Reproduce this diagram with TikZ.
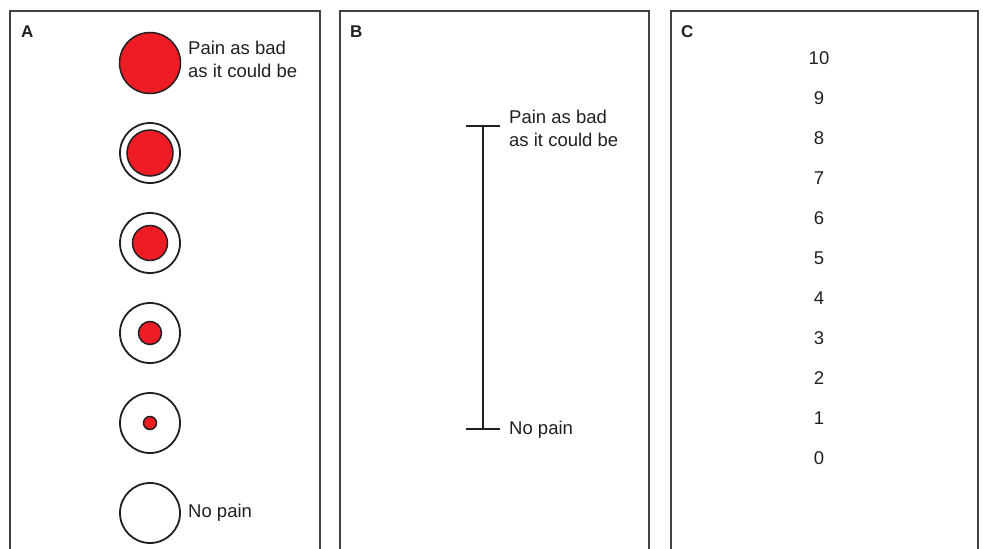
\documentclass[tikz,border=0pt]{standalone}
\usepackage{fontspec}
\setmainfont{Liberation Sans}
\definecolor{painred}{HTML}{EE1C25}
\definecolor{ink}{HTML}{231F20}
\begin{document}
\begin{tikzpicture}[x=1pt,y=-1pt,
  frame/.style={draw=ink!85,line width=1.3pt},
  ring/.style={circle,draw=ink,line width=1.8pt,inner sep=0pt,minimum size=60pt},
  dot/.style={circle,draw=ink,line width=1.5pt,fill=painred,inner sep=0pt},
  lbl/.style={font=\fontsize{18.5}{22.4}\selectfont,text=ink,inner sep=0pt,align=left},
  panel/.style={font=\bfseries\fontsize{17}{20}\selectfont,text=ink,inner sep=0pt},
  num/.style={font=\fontsize{18.5}{20}\selectfont,text=ink,inner sep=0pt},
  vline/.style={draw=ink,line width=1.2pt}]
\useasboundingbox (0,0) rectangle (983,549);
\clip (0,0) rectangle (983,549);
% frames
\draw[frame] (10,560) -- (10,11) -- (320,11) -- (320,560);
\draw[frame] (340,560) -- (340,11) -- (649,11) -- (649,560);
\draw[frame] (671,560) -- (671,11) -- (978,11) -- (978,560);
\node[panel,anchor=base west] (la) at (21,37) {A};
\node[panel,anchor=base west] (lb) at (350,37) {B};
\node[panel,anchor=base west] (lc) at (681,37) {C};
% panel A
\node[dot,minimum size=61pt] (c1) at (150,63) {};
\node[ring] (r2) at (150,153) {};
\node[dot,minimum size=46pt] (c2) at (150,153) {};
\node[ring] (r3) at (150,243) {};
\node[dot,minimum size=35pt] (c3) at (150,243) {};
\node[ring] (r4) at (150,333) {};
\node[dot,minimum size=23pt] (c4) at (150,333) {};
\node[ring] (r5) at (150,423) {};
\node[dot,minimum size=13pt] (c5) at (150,423) {};
\node[ring] (r6) at (150,513) {};
\node[lbl,anchor=base west] (ta) at (188,77) {Pain as bad\\as it could be};
\node[lbl,anchor=base west] (tb) at (188,517) {No pain};
% panel B
\coordinate (bt) at (483,126);
\coordinate (bb) at (483,429);
\coordinate (btl) at (466,126);
\coordinate (btr) at (500,126);
\coordinate (bbl) at (466,429);
\coordinate (bbr) at (500,429);
\draw[vline] (bt) -- (bb);
\draw[vline] (btl) -- (btr);
\draw[vline] (bbl) -- (bbr);
\node[lbl,anchor=base west] (tc) at (509,146) {Pain as bad\\as it could be};
\node[lbl,anchor=base west] (td) at (509,434) {No pain};
% panel C
\foreach \n in {0,...,10} {
  \node[num,anchor=base] (n\n) at (819,{464-40*\n}) {\n};
}
\end{tikzpicture}
\end{document}
